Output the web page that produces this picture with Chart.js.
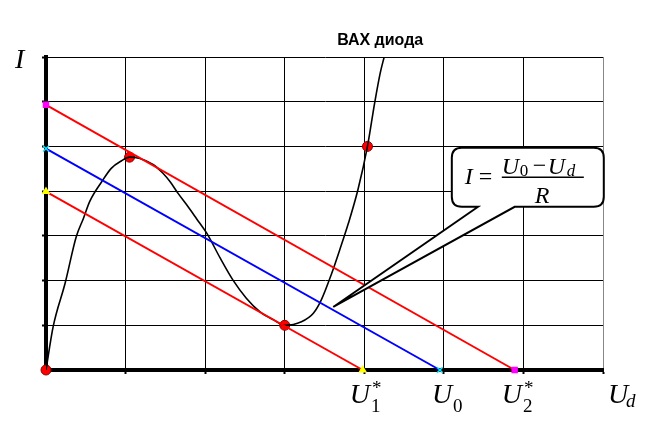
<!DOCTYPE html>
<html>
<head>
<meta charset="utf-8">
<script src="https://cdn.jsdelivr.net/npm/chart.js@4/dist/chart.umd.min.js"></script>
<style>
  html, body { margin: 0; padding: 0; background: #fff; }
  #wrap { width: 648px; height: 425px; }
</style>
</head>
<body>
<div id="wrap"><canvas id="vax"></canvas></div>
<script>
/* ───────────────────────────── data */
// diode I-V curve, N-shaped
const curveU = [0, 0.09, 0.24, 0.38, 0.47, 0.55, 0.70, 0.82, 0.95, 1.05, 1.18, 1.35, 1.47, 1.56,
                1.66, 1.77, 1.89, 2.02, 2.19, 2.35, 2.52, 2.69, 2.86, 3.00, 3.21, 3.36, 3.46, 3.59, 3.69,
                3.80, 3.92, 4.04, 4.13, 4.20, 4.25];
const curveI = [0, 0.97, 1.94, 2.98, 3.39, 3.77, 4.21, 4.51, 4.68, 4.76, 4.73, 4.59, 4.40, 4.21,
                3.95, 3.69, 3.39, 3.06, 2.50, 2.01, 1.60, 1.30, 1.12, 1.00, 1.08, 1.27, 1.57, 2.16, 2.68,
                3.28, 4.03, 5.00, 5.97, 6.64, 7.00];

// operating points on the curve
const pointU = [0, 1.05, 3.00, 4.04];
const pointI = [0, 4.76, 1.00, 5.00];

// load lines I = (U - Ud)/R : value on the I axis and on the Ud axis
const U1 = 3.98, U0 = 4.95, U2 = 5.89;
const lineIntercepts = { lower: 3.99, mid: 4.95, upper: 5.93 };

// axis range / grid
const gridMax = 7;
const xLabels = [
  { value: U1, main: 'U', sub: '1', star: true },
  { value: U0, main: 'U', sub: '0', star: false },
  { value: U2, main: 'U', sub: '2', star: true }
];
const titleText = 'ВАХ диода';

/* ───────────────────────────── helpers */
const pts = (xs, ys) => xs.map((x, i) => ({ x, y: ys[i] }));
const loadLine = (i0, u0) => [{ x: 0, y: i0 }, { x: u0, y: 0 }];

const SERIF = '"Liberation Serif", "Times New Roman", serif';

/* ───────────────────────────── text + callout overlay */
const overlay = {
  id: 'overlay',
  afterDatasetsDraw(chart) {
    const { ctx, chartArea: a, scales: { x, y } } = chart;
    const px = v => x.getPixelForValue(v);
    const py = v => y.getPixelForValue(v);
    ctx.save();
    ctx.fillStyle = '#000';
    ctx.textBaseline = 'alphabetic';

    // title
    ctx.font = 'bold 16px "Liberation Sans", Arial, sans-serif';
    ctx.textAlign = 'center';
    ctx.fillText(titleText, px(4.2), a.top - 12);
    ctx.textAlign = 'left';

    // axis names
    ctx.font = 'italic 28px ' + SERIF;
    ctx.fillText('I', a.left - 31, a.top + 11);
    ctx.fillText('U', a.right + 5, a.bottom + 33);
    ctx.font = 'italic 19px ' + SERIF;
    ctx.fillText('d', a.right + 23, a.bottom + 37);

    // U1*, U0, U2* under the axis
    xLabels.forEach(l => {
      const xx = px(l.value) - (l.star ? 13 : 8);
      ctx.font = 'italic 28px ' + SERIF;
      ctx.fillText(l.main, xx, a.bottom + 33);
      const w = ctx.measureText(l.main).width;
      ctx.font = '19px ' + SERIF;
      ctx.fillText(l.sub, xx + w + 1, a.bottom + 42);
      if (l.star) ctx.fillText('*', xx + w + 2, a.bottom + 24);
    });

    // callout with the load-line formula
    const bl = px(5.10), br = px(7.01), bt = py(4.97), bb = py(3.65);
    const t1 = px(5.43), t2 = px(5.89);
    const tipX = px(3.61), tipY = py(1.41);
    const r = 10;
    ctx.beginPath();
    ctx.moveTo(t1, bb);
    ctx.lineTo(tipX, tipY);
    ctx.lineTo(t2, bb);
    ctx.lineTo(br - r, bb);
    ctx.quadraticCurveTo(br, bb, br, bb - r);
    ctx.lineTo(br, bt + r);
    ctx.quadraticCurveTo(br, bt, br - r, bt);
    ctx.lineTo(bl + r, bt);
    ctx.quadraticCurveTo(bl, bt, bl, bt + r);
    ctx.lineTo(bl, bb - r);
    ctx.quadraticCurveTo(bl, bb, bl + r, bb);
    ctx.closePath();
    ctx.fillStyle = '#fff';
    ctx.fill();
    ctx.lineWidth = 2;
    ctx.strokeStyle = '#000';
    ctx.stroke();

    ctx.fillStyle = '#000';
    const midY = (bt + bb) / 2;           // fraction bar height
    ctx.font = 'italic 24px ' + SERIF;
    ctx.fillText('I', bl + 13, midY + 7);
    ctx.font = '24px ' + SERIF;
    ctx.fillText('=', bl + 27, midY + 7);
    ctx.font = 'italic 24px ' + SERIF;
    ctx.fillText('U', bl + 50, midY - 3);
    ctx.font = '17px ' + SERIF;
    ctx.fillText('0', bl + 68, midY - 1);
    ctx.font = '24px ' + SERIF;
    ctx.fillText('\u2212', bl + 81, midY - 4);
    ctx.font = 'italic 24px ' + SERIF;
    ctx.fillText('U', bl + 96, midY - 3);
    ctx.font = 'italic 17px ' + SERIF;
    ctx.fillText('d', bl + 115, midY - 1);
    ctx.font = 'italic 24px ' + SERIF;
    ctx.fillText('R', bl + 83, midY + 26);
    ctx.lineWidth = 1.5;
    ctx.beginPath();
    ctx.moveTo(bl + 50, midY);
    ctx.lineTo(bl + 132, midY);
    ctx.stroke();

    ctx.restore();
  }
};

/* ───────────────────────────── chart */
const endStyle = (color, style) => ({
  pointRadius: 3.5, pointStyle: style,
  pointBackgroundColor: color, pointBorderColor: color, pointBorderWidth: 1.5
});

new Chart(document.getElementById('vax'), {
  type: 'scatter',
  data: {
    datasets: [
      { data: loadLine(lineIntercepts.lower, U1), showLine: true, borderColor: '#ff0000', borderWidth: 2,
        ...endStyle('#ffff00', 'triangle'), clip: false },
      { data: loadLine(lineIntercepts.mid, U0), showLine: true, borderColor: '#0000ff', borderWidth: 2,
        ...endStyle('#00e5ff', 'crossRot'), pointRadius: 4, clip: false },
      { data: loadLine(lineIntercepts.upper, U2), showLine: true, borderColor: '#ff0000', borderWidth: 2,
        ...endStyle('#ff00ff', 'rect'), clip: false },
      { data: pts(curveU, curveI), showLine: true, borderColor: '#000', borderWidth: 1.6,
        pointRadius: 0, cubicInterpolationMode: 'monotone' },
      { data: pts(pointU, pointI), showLine: false, pointRadius: 5,
        pointBackgroundColor: '#ff0000', pointBorderColor: '#8b0000', pointBorderWidth: 1, clip: false }
    ]
  },
  options: {
    responsive: true,
    maintainAspectRatio: false,
    animation: false,
    events: [],
    layout: { padding: { left: 42, right: 45, top: 57, bottom: 51 } },
    plugins: { legend: { display: false }, tooltip: { enabled: false }, title: { display: false } },
    scales: {
      x: {
        type: 'linear', min: 0, max: gridMax,
        ticks: { stepSize: 1, display: false },
        grid: {
          color: c => (c.tick && c.tick.value === gridMax ? '#888' : '#000'),
          lineWidth: 1, drawTicks: true, tickLength: 4, tickColor: '#000', tickWidth: 2
        },
        border: { display: true, color: '#000', width: 4 }
      },
      y: {
        type: 'linear', min: 0, max: gridMax,
        ticks: { stepSize: 1, display: false },
        grid: { color: '#000', lineWidth: 1, drawTicks: true, tickLength: 4, tickColor: '#000', tickWidth: 2 },
        border: { display: true, color: '#000', width: 4 }
      }
    }
  },
  plugins: [overlay]
});
</script>
</body>
</html>
